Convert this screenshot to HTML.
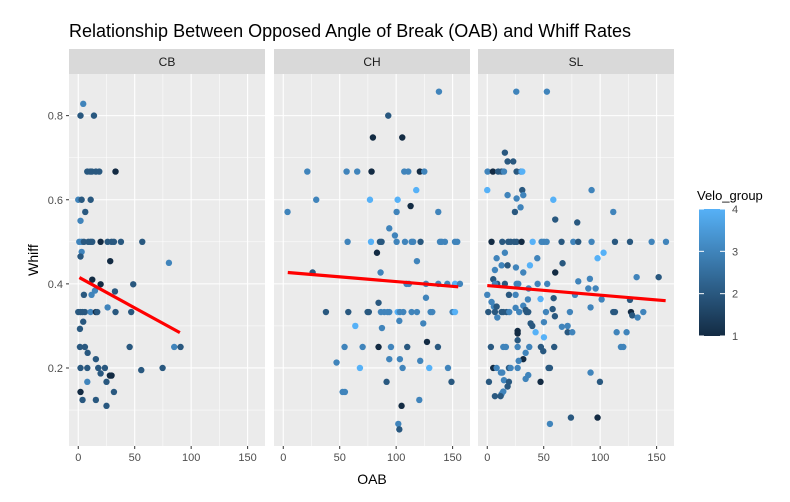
<!DOCTYPE html>
<html><head><meta charset="utf-8"><style>
body{margin:0;background:#fff;}
svg{display:block;font-family:"Liberation Sans",Arial,sans-serif;}
</style></head><body>
<svg id="chart" width="790" height="502" viewBox="0 0 790 502"></svg>
<script>
const facets = ["CB","CH","SL"];
const cbX = [4.4,2,13.9,8,10.6,12.1,15.6,18.6,33,0,3,11,6.2,2,0.9,3,5,8.9,10.9,12.4,19.8,26,29.5,31.6,37.8,56.7,3,2,28.3,80.3,12.4,19.8,48.7,32.5,14.8,11.8,5,26,0,2,3.8,5.9,10.9,15.6,16.8,33,46.9,4.4,1.5,1.5,5.9,45.5,85,90.6,8.3,15.6,2,8,17.7,23.6,74.7,55.8,19.8,28,29.5,8,25,2,31.6,3.8,15.6,25];
const cbY = [0.828,0.8,0.8,0.667,0.667,0.667,0.667,0.667,0.667,0.6,0.6,0.6,0.571,0.55,0.5,0.5,0.5,0.5,0.5,0.5,0.5,0.5,0.5,0.5,0.5,0.5,0.476,0.465,0.454,0.45,0.41,0.399,0.399,0.382,0.384,0.374,0.374,0.344,0.333,0.333,0.333,0.333,0.333,0.333,0.333,0.333,0.333,0.31,0.293,0.25,0.25,0.25,0.25,0.25,0.236,0.221,0.2,0.2,0.2,0.2,0.2,0.195,0.187,0.182,0.182,0.167,0.167,0.143,0.143,0.124,0.124,0.11];
const cbV = [3,2,2,2,2,2,2,2,1,3,2,2,2,3,3,3,2,2,2,2,1,2,2,2,2,2,3,2,1,3,1,1,2,2,3,3,2,3,2,2,2,2,3,1,2,2,2,2,2,2,2,2,3,2,2,2,2,2,2,2,2,2,2,1,1,3,2,1,2,2,2,2];
const chX = [137.9,93,79.4,105.4,21.3,56.1,65.5,78.2,107.2,110.7,121,124.9,117.8,29.2,76.8,101.3,3.8,100.4,137.3,112.8,93.9,98.9,57,77.7,85.6,87.1,100.4,107.8,113.7,115.1,121.6,138.8,140.3,143.2,152.1,154.1,83,118.4,26,86.2,109.2,111.3,126.4,137.3,145.3,152.1,156.5,126.4,84.4,37.8,57.6,74.7,75.8,86.5,89.5,92.4,93.9,101.3,103.3,106.3,113.7,118.4,130.5,132,150,152.1,102.8,124,63.8,87.4,127.3,54.3,70.3,84.4,95.4,109.8,137,47.2,93.9,103.3,121.3,67.9,105.7,129.3,145.9,91.5,149,52.6,54.6,120.5,104.8,101.9,102.8];
const chY = [0.857,0.8,0.748,0.748,0.667,0.667,0.667,0.667,0.667,0.667,0.667,0.667,0.623,0.6,0.6,0.6,0.571,0.571,0.571,0.585,0.532,0.515,0.5,0.5,0.5,0.5,0.5,0.5,0.5,0.5,0.5,0.5,0.5,0.5,0.5,0.5,0.474,0.454,0.427,0.427,0.4,0.4,0.4,0.4,0.4,0.4,0.4,0.367,0.355,0.333,0.333,0.333,0.333,0.333,0.333,0.333,0.333,0.333,0.333,0.333,0.333,0.333,0.333,0.333,0.333,0.333,0.312,0.306,0.3,0.295,0.262,0.25,0.25,0.25,0.25,0.25,0.25,0.213,0.221,0.221,0.217,0.2,0.2,0.2,0.2,0.167,0.167,0.143,0.143,0.124,0.11,0.067,0.054];
const chV = [3,2,1,1,3,3,3,1,3,3,1,3,4,3,4,4,3,3,3,1,3,3,3,4,2,2,3,3,3,3,2,3,3,3,3,3,1,3,2,3,3,3,3,3,3,4,3,3,2,2,2,2,2,3,3,3,3,4,3,3,3,3,3,3,3,4,3,3,4,3,1,3,3,1,3,2,2,3,3,3,3,4,3,4,3,2,2,3,3,3,1,3,2];
const slX = [25.7,52.8,15.6,18,23,0.3,5,9.7,12.7,14.8,26,30,31,0,31,92.4,18,31.9,26,58.5,29.5,24.5,111.6,60.2,79.7,3.8,13.3,18.6,20.7,23.9,26,30.4,40.2,48.1,50.2,52.6,65.8,76.2,80.6,92.4,113.1,126.4,145.6,158.3,15.6,103,8.3,97.7,44.3,12.7,18,25.4,37.8,6.8,66.7,31.9,60.2,5.3,80.6,90.9,132.3,151.8,8.9,15.6,26,27.5,44.6,53.1,6.8,89.5,96,36.6,0,19.2,25.1,47.2,36,58.8,77.7,101.3,126.4,3.8,5.9,8.3,25.1,31.9,34,57.9,91.5,0.9,6.8,12.7,14.2,17.1,19.5,28.3,34.8,36.3,52,73.2,111.6,113.1,127.3,138.2,8.9,128.4,133.2,59.9,50.2,38.4,39.9,66.1,71.2,26.9,26.9,71.2,75.3,114.6,123.4,42.8,50.2,26.9,3.2,14.2,16.5,26.9,37.2,47.5,59.3,118.4,120.5,49.6,34,31.9,27.8,5.3,19.2,20.7,26.9,8.3,54.3,55.5,12.1,13.3,91.5,36.3,34,14.8,1.5,19.2,47.2,99.8,18,14.2,12.7,6.8,11.8,74.1,97.7,55.5];
const slY = [0.857,0.857,0.712,0.691,0.691,0.667,0.667,0.667,0.667,0.667,0.667,0.667,0.667,0.623,0.623,0.623,0.611,0.611,0.603,0.6,0.582,0.571,0.571,0.553,0.546,0.5,0.5,0.5,0.5,0.5,0.5,0.5,0.5,0.5,0.5,0.5,0.5,0.5,0.5,0.5,0.5,0.5,0.5,0.5,0.474,0.474,0.461,0.461,0.461,0.444,0.444,0.439,0.444,0.433,0.449,0.427,0.427,0.411,0.406,0.412,0.416,0.416,0.4,0.4,0.4,0.4,0.4,0.4,0.4,0.389,0.389,0.389,0.374,0.374,0.374,0.364,0.363,0.366,0.374,0.363,0.362,0.357,0.346,0.346,0.343,0.348,0.338,0.34,0.344,0.333,0.333,0.333,0.333,0.333,0.333,0.333,0.333,0.333,0.333,0.333,0.333,0.333,0.333,0.333,0.32,0.325,0.32,0.323,0.309,0.306,0.3,0.298,0.3,0.288,0.282,0.285,0.285,0.285,0.285,0.285,0.273,0.266,0.25,0.25,0.25,0.25,0.25,0.25,0.25,0.25,0.25,0.24,0.236,0.221,0.217,0.2,0.2,0.2,0.2,0.2,0.2,0.2,0.189,0.189,0.189,0.183,0.174,0.171,0.167,0.167,0.167,0.167,0.156,0.144,0.138,0.133,0.133,0.082,0.082,0.067];
const slV = [3,3,2,2,2,3,1,2,2,3,2,3,4,4,2,3,3,3,3,4,3,2,3,2,2,1,2,2,2,2,2,1,4,3,3,3,2,3,2,3,2,2,3,3,3,4,3,4,3,3,2,3,4,3,2,3,1,2,3,3,3,2,2,2,3,3,3,3,3,3,3,3,3,2,3,4,3,2,3,3,2,3,3,2,3,3,2,2,3,2,2,2,2,2,3,3,2,2,3,3,2,2,1,3,3,2,3,2,3,2,2,3,3,1,1,2,3,3,3,4,4,2,2,3,3,3,3,2,2,3,3,2,3,1,3,1,2,3,3,3,2,2,3,3,3,3,3,3,2,2,1,2,2,3,3,2,2,2,1,3];
const trendX = [[1,90],[4,155],[0,158]];
const trendY = [[0.415,0.284],[0.427,0.393],[0.396,0.36]];
const xTicks = [0,50,100,150];
const yTicks = [0.2,0.4,0.6,0.8];
const legendTicks = [1,2,3,4];

const NS="http://www.w3.org/2000/svg";
const svg=document.getElementById('chart');
function mk(tag,attrs,parent){const e=document.createElementNS(NS,tag);for(const k in attrs)e.setAttribute(k,attrs[k]);(parent||svg).appendChild(e);return e;}
const panelLefts=[69,274,478], PW=196, PT=74, PB=446;
const xMin=-8.2, xMax=165.4, yMin=0.0145, yMax=0.899;
function sx(p,v){return panelLefts[p]+(v-xMin)/(xMax-xMin)*PW;}
function sy(v){return PB-(v-yMin)/(yMax-yMin)*(PB-PT);}
function col(v){const t=(v-1)/3;const a=[19,43,67],b=[86,177,247];return 'rgb('+a.map((c,i)=>Math.round(c+(b[i]-c)*t)).join(',')+')';}

const title=mk('text',{x:69,y:37,'font-size':18,fill:'#000'});
title.textContent='Relationship Between Opposed Angle of Break (OAB) and Whiff Rates';



const data=[[cbX,cbY,cbV],[chX,chY,chV],[slX,slY,slV]];
facets.forEach((f,p)=>{
  const g=mk('g',{});
  
  
  mk('rect',{x:panelLefts[p],y:PT,width:PW,height:PB-PT,fill:'#EBEBEB'},g);
  const strip=mk('rect',{x:panelLefts[p],y:49,width:PW,height:25,fill:'#D9D9D9'},g);
  
  
  const st=mk('text',{x:panelLefts[p]+PW/2,y:66,'font-size':12,fill:'#1A1A1A','text-anchor':'middle'},g);
  st.textContent=f;
  // minor grid
  for(let i=0;i<xTicks.length-1;i++){const m=(xTicks[i]+xTicks[i+1])/2;mk('line',{x1:sx(p,m),x2:sx(p,m),y1:PT,y2:PB,stroke:'#fff','stroke-width':0.5},g);}
  mk('line',{x1:sx(p,175),x2:sx(p,175),y1:PT,y2:PB,stroke:'#fff','stroke-width':0.5},g);
  [0.1,0.3,0.5,0.7].forEach(m=>mk('line',{x1:panelLefts[p],x2:panelLefts[p]+PW,y1:sy(m),y2:sy(m),stroke:'#fff','stroke-width':0.5},g));
  xTicks.forEach(t=>{
    mk('line',{x1:sx(p,t),x2:sx(p,t),y1:PT,y2:PB,stroke:'#fff','stroke-width':1.1},g);
    mk('line',{x1:sx(p,t),x2:sx(p,t),y1:PB,y2:PB+3,stroke:'#333','stroke-width':1},g);
    const tl=mk('text',{x:sx(p,t),y:PB+15,'font-size':11,fill:'#4D4D4D','text-anchor':'middle'},g);
    tl.textContent=t;
  });
  yTicks.forEach(t=>mk('line',{x1:panelLefts[p],x2:panelLefts[p]+PW,y1:sy(t),y2:sy(t),stroke:'#fff','stroke-width':1.1},g));
  const [xs,ys,vs]=data[p];
  xs.forEach((x,i)=>{
    const c=mk('circle',{cx:sx(p,x),cy:sy(ys[i]),r:3.2,fill:col(vs[i])},g);
    
    
  });
  const tr=mk('line',{x1:sx(p,trendX[p][0]),y1:sy(trendY[p][0]),x2:sx(p,trendX[p][1]),y2:sy(trendY[p][1]),stroke:'#FF0000','stroke-width':3.2},g);
  
  
});
yTicks.forEach(t=>{
  mk('line',{x1:66,x2:69,y1:sy(t),y2:sy(t),stroke:'#333','stroke-width':1});
  const tl=mk('text',{x:63,y:sy(t)+4,'font-size':11,fill:'#4D4D4D','text-anchor':'end'});
  tl.textContent=t.toFixed(1);
});
const yl=mk('text',{x:0,y:0,'font-size':14,fill:'#000','text-anchor':'middle',transform:'translate(38,260) rotate(-90)'});
yl.textContent='Whiff';


const xl=mk('text',{x:372,y:484,'font-size':14,fill:'#000','text-anchor':'middle'});
xl.textContent='OAB';



// legend
const lg=mk('g',{});


const defs=mk('defs',{});
const grad=mk('linearGradient',{id:'vg',x1:0,y1:1,x2:0,y2:0},defs);
mk('stop',{offset:'0','stop-color':col(1)},grad);
mk('stop',{offset:'1','stop-color':col(4)},grad);
const lt=mk('text',{x:697,y:200,'font-size':13,fill:'#000'},lg);
lt.textContent='Velo_group';
const LB0=209, LB1=336;
mk('rect',{x:699,y:LB0,width:26,height:LB1-LB0,fill:'url(#vg)'},lg);
legendTicks.forEach(t=>{
  const y=LB1-(t-1)/3*(LB1-LB0);
  mk('line',{x1:699,x2:704,y1:y,y2:y,stroke:'#fff','stroke-width':1},lg);
  mk('line',{x1:720,x2:725,y1:y,y2:y,stroke:'#fff','stroke-width':1},lg);
  const tx=mk('text',{x:732,y:y+4,'font-size':11,fill:'#4D4D4D'},lg);
  tx.textContent=t;
});
</script>
</body></html>
